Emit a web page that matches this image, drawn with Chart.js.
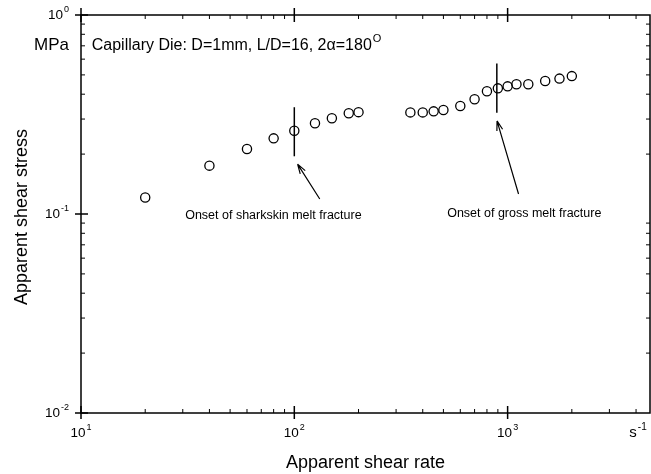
<!DOCTYPE html>
<html>
<head>
<meta charset="utf-8">
<script src="https://cdn.jsdelivr.net/npm/chart.js@4/dist/chart.umd.min.js"></script>
<style>
  html, body { margin: 0; padding: 0; background: #fff; }
</style>
</head>
<body>
<canvas id="flowChart" width="651" height="474"></canvas>
<script>
// apparent shear rate (1/s) and apparent shear stress (MPa)
const shearRate = [20, 40, 60, 80, 100, 125, 150, 180, 200,
  350, 400, 450, 500, 600, 700, 800, 900, 1000, 1100, 1250, 1500, 1750, 2000];
const shearStress = [0.121, 0.175, 0.212, 0.240, 0.262, 0.286, 0.303, 0.321, 0.325,
  0.324, 0.324, 0.328, 0.333, 0.349, 0.377, 0.414, 0.428, 0.438, 0.449, 0.449, 0.466, 0.479, 0.493];

// onset markers: vertical bars at the onset shear rate
const sharkskinBar = { x: 100, y: [0.195, 0.344] };
const grossBar = { x: 890, y: [0.323, 0.571] };

// arrows (tail -> head) in data units
const sharkskinArrow = { from: [131.6, 0.119], to: [103.6, 0.178] };
const grossArrow = { from: [1125, 0.126], to: [892, 0.2935] };

const notes = [
  { text: "Onset of sharkskin melt fracture", x: 79.8, y: 0.0977 },
  { text: "Onset of gross melt fracture", x: 1197, y: 0.101 },
];

const xTicks = [10, 100, 1000];
const yTicks = [1, 0.1, 0.01];
const xRange = [10, 4650];
const yRange = [0.01, 1];

const FONT = "'Liberation Sans', Arial, sans-serif";

function drawPow(ctx, base, exp, x, y, align, size) {
  ctx.font = size + "px " + FONT;
  const bw = ctx.measureText(base).width;
  ctx.font = Math.round(size * 0.68) + "px " + FONT;
  const ew = ctx.measureText(exp).width;
  let left = x;
  if (align === "center") left = x - (bw + ew + 1) / 2;
  if (align === "right") left = x - (bw + ew + 1);
  ctx.textAlign = "left";
  ctx.textBaseline = "middle";
  ctx.font = size + "px " + FONT;
  ctx.fillText(base, left, y);
  ctx.font = Math.round(size * 0.68) + "px " + FONT;
  ctx.fillText(exp, left + bw + 1, y - size * 0.38);
}

function drawArrow(ctx, x, y, arrow) {
  const x1 = x.getPixelForValue(arrow.from[0]), y1 = y.getPixelForValue(arrow.from[1]);
  const x2 = x.getPixelForValue(arrow.to[0]), y2 = y.getPixelForValue(arrow.to[1]);
  const ang = Math.atan2(y2 - y1, x2 - x1);
  ctx.beginPath();
  ctx.moveTo(x1, y1);
  ctx.lineTo(x2, y2);
  for (const s of [-1, 1]) {
    ctx.moveTo(x2, y2);
    ctx.lineTo(x2 - 10 * Math.cos(ang + s * 0.3), y2 - 10 * Math.sin(ang + s * 0.3));
  }
  ctx.stroke();
}

const framePlugin = {
  id: "framePlugin",
  afterDraw(chart) {
    const { ctx, chartArea: a, scales: { x, y } } = chart;
    ctx.save();
    ctx.strokeStyle = "#000";
    ctx.fillStyle = "#000";

    ctx.lineWidth = 1.5;
    ctx.strokeRect(a.left, a.top, a.right - a.left, a.bottom - a.top);

    // minor ticks, pointing inwards on all four sides
    ctx.lineWidth = 1;
    ctx.beginPath();
    for (let d = 1; d <= 3; d++) {
      for (let k = 2; k <= 9; k++) {
        const v = k * Math.pow(10, d);
        if (v > xRange[1]) continue;
        const px = x.getPixelForValue(v);
        ctx.moveTo(px, a.bottom); ctx.lineTo(px, a.bottom - 4);
        ctx.moveTo(px, a.top); ctx.lineTo(px, a.top + 4);
      }
    }
    for (let d = -2; d <= -1; d++) {
      for (let k = 2; k <= 9; k++) {
        const py = y.getPixelForValue(k * Math.pow(10, d));
        ctx.moveTo(a.left, py); ctx.lineTo(a.left + 4, py);
        ctx.moveTo(a.right, py); ctx.lineTo(a.right - 4, py);
      }
    }
    ctx.stroke();

    // major ticks cross the frame
    ctx.lineWidth = 1.5;
    ctx.beginPath();
    xTicks.forEach(v => {
      const px = x.getPixelForValue(v);
      ctx.moveTo(px, a.bottom + 6); ctx.lineTo(px, a.bottom - 7);
      ctx.moveTo(px, a.top - 7); ctx.lineTo(px, a.top + 7);
    });
    yTicks.forEach(v => {
      const py = y.getPixelForValue(v);
      ctx.moveTo(a.left - 6, py); ctx.lineTo(a.left + 7, py);
    });
    ctx.stroke();

    // tick labels
    xTicks.forEach(v => {
      drawPow(ctx, "10", String(Math.round(Math.log10(v))), x.getPixelForValue(v), a.bottom + 20, "center", 13.5);
    });
    yTicks.forEach(v => {
      drawPow(ctx, "10", String(Math.round(Math.log10(v))), a.left - 12, y.getPixelForValue(v), "right", 13.5);
    });
    drawPow(ctx, "s", "-1", a.right - 12, a.bottom + 20, "center", 15);

    // axis titles
    ctx.font = "18px " + FONT;
    ctx.textAlign = "center";
    ctx.textBaseline = "middle";
    ctx.fillText("Apparent shear rate", (a.left + a.right) / 2, 463);
    ctx.save();
    ctx.translate(22, (a.top + a.bottom) / 2 + 3);
    ctx.rotate(-Math.PI / 2);
    ctx.fillText("Apparent shear stress", 0, 0);
    ctx.restore();

    // unit and die description
    const ty = y.getPixelForValue(0.7035);
    ctx.font = "17px " + FONT;
    ctx.textAlign = "right";
    ctx.fillText("MPa", a.left - 12, ty);
    ctx.font = "16px " + FONT;
    ctx.textAlign = "left";
    const die = "Capillary Die: D=1mm, L/D=16, 2\u03B1=180";
    const dx = x.getPixelForValue(11.23);
    ctx.fillText(die, dx, ty);
    const dw = ctx.measureText(die).width;
    ctx.font = "11px " + FONT;
    ctx.fillText("O", dx + dw + 1, ty - 6);

    // onset notes and arrows
    ctx.font = "12.5px " + FONT;
    ctx.textAlign = "center";
    notes.forEach(n => ctx.fillText(n.text, x.getPixelForValue(n.x), y.getPixelForValue(n.y)));
    ctx.lineWidth = 1.2;
    drawArrow(ctx, x, y, sharkskinArrow);
    drawArrow(ctx, x, y, grossArrow);

    ctx.restore();
  }
};

const barDataset = bar => ({
  data: bar.y.map(v => ({ x: bar.x, y: v })),
  showLine: true,
  borderColor: "#000",
  borderWidth: 1.5,
  pointRadius: 0,
});

new Chart(document.getElementById("flowChart"), {
  type: "scatter",
  data: {
    datasets: [
      {
        data: shearRate.map((r, i) => ({ x: r, y: shearStress[i] })),
        pointStyle: "circle",
        pointRadius: 4.6,
        borderColor: "#000",
        backgroundColor: "rgba(0,0,0,0)",
        borderWidth: 1.3,
      },
      barDataset(sharkskinBar),
      barDataset(grossBar),
    ],
  },
  options: {
    responsive: false,
    animation: false,
    devicePixelRatio: 1,
    layout: { autoPadding: false, padding: { left: 81, right: 1, top: 15, bottom: 61 } },
    plugins: { legend: { display: false }, tooltip: { enabled: false } },
    scales: {
      x: { type: "logarithmic", min: xRange[0], max: xRange[1], display: false },
      y: { type: "logarithmic", min: yRange[0], max: yRange[1], display: false },
    },
  },
  plugins: [framePlugin],
});
</script>
</body>
</html>
